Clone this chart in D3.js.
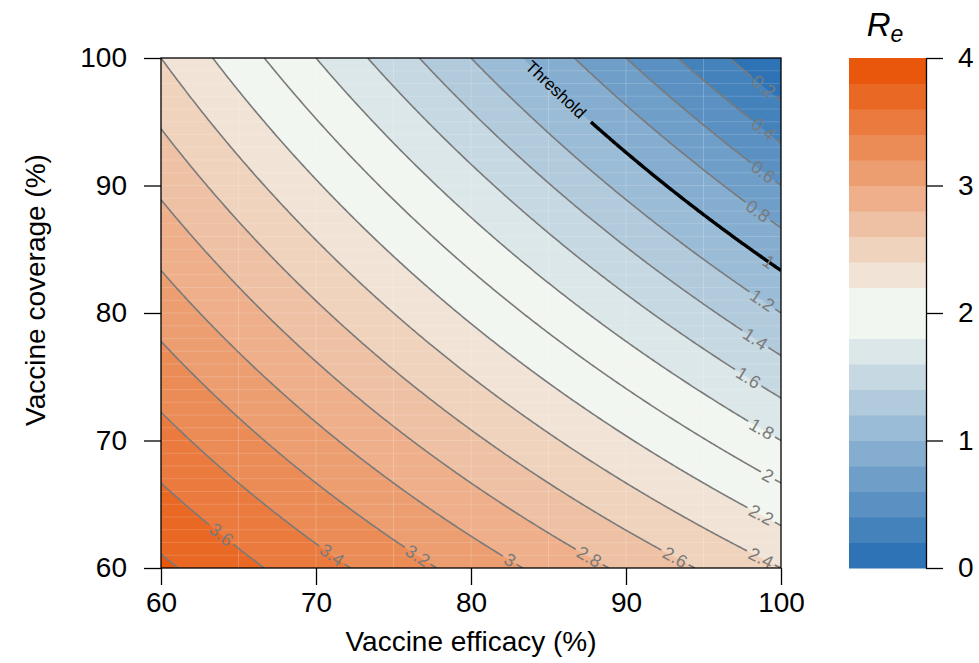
<!DOCTYPE html>
<html lang="en">
<head>
<meta charset="UTF-8">
<title>Re by vaccine efficacy and coverage</title>
<script src="https://cdn.jsdelivr.net/npm/d3@7"></script>
<style>
    body { margin: 0; background: #fff; }
    svg text { font-family: "Liberation Sans", Arial, Helvetica, sans-serif; }
</style>
</head>
<body>
<svg id="chart" width="979" height="663"></svg>
<script>
// Grid the surface was read on (%)
const efficacy = [60, 65, 70, 75, 80, 85, 90, 95, 100];
const coverage = [60, 65, 70, 75, 80, 85, 90, 95, 100];

// Re values: one row per coverage, one column per efficacy
const reValues = [
    [3.84, 3.66, 3.48, 3.30, 3.12, 2.94, 2.76, 2.58, 2.40],
    [3.66, 3.465, 3.27, 3.075, 2.88, 2.685, 2.49, 2.295, 2.10],
    [3.48, 3.27, 3.06, 2.85, 2.64, 2.43, 2.22, 2.01, 1.80],
    [3.30, 3.075, 2.85, 2.625, 2.40, 2.175, 1.95, 1.725, 1.50],
    [3.12, 2.88, 2.64, 2.40, 2.16, 1.92, 1.68, 1.44, 1.20],
    [2.94, 2.685, 2.43, 2.175, 1.92, 1.665, 1.41, 1.155, 0.90],
    [2.76, 2.49, 2.22, 1.95, 1.68, 1.41, 1.14, 0.87, 0.60],
    [2.58, 2.295, 2.01, 1.725, 1.44, 1.155, 0.87, 0.585, 0.30],
    [2.40, 2.10, 1.80, 1.50, 1.20, 0.90, 0.60, 0.30, 0.00]
];

// contour levels and the colour of each 0.2 band (0-0.2 first)
const levels = [0.2, 0.4, 0.6, 0.8, 1, 1.2, 1.4, 1.6, 1.8, 2, 2.2, 2.4, 2.6, 2.8, 3, 3.2, 3.4, 3.6, 3.8];
const levelLabels = ["0.2", "0.4", "0.6", "0.8", "1", "1.2", "1.4", "1.6", "1.8", "2", "2.2", "2.4", "2.6", "2.8", "3", "3.2", "3.4", "3.6", "3.8"];
const bandColors = [
    "#2E73B5", "#4482BC", "#5A90C2", "#6F9FC9", "#85ADCF", "#9BBCD6", "#B1CADC", "#C6D9E3", "#DCE7E9", "#F2F6F0",
    "#F2F6F0", "#F1E4D7", "#F0D3BD", "#EFC1A4", "#EEAF8A", "#EC9E71", "#EB8C57", "#EA7A3E", "#E96924", "#E8570B"
];
const threshold = 1;
const thresholdLabel = "Threshold";

const xTicks = [60, 70, 80, 90, 100];
const yTicks = [60, 70, 80, 90, 100];
const legendTicks = [0, 1, 2, 3, 4];

// layout
const plot = { left: 161, right: 781, top: 58, bottom: 568 };
const bar = { left: 849, right: 926 };
const fontFamily = '"Liberation Sans", Arial, Helvetica, sans-serif';
const lineGrey = "#7a7a7a";
// how far (px, beyond half the label) each contour label sits from the line's lower end
const labelGapFromEnd = { 0.8: 16, 1.4: 18, 1.6: 26, 3.6: 42 };

const svg = d3.select("#chart");

const x = d3.scaleLinear().domain([60, 100]).range([plot.left, plot.right]);
const y = d3.scaleLinear().domain([60, 100]).range([plot.bottom, plot.top]);

// bilinear read of the grid
function reAt(e, c) {
    const i = Math.max(0, Math.min(efficacy.length - 2, d3.bisectRight(efficacy, e) - 1));
    const j = Math.max(0, Math.min(coverage.length - 2, d3.bisectRight(coverage, c) - 1));
    const te = (e - efficacy[i]) / (efficacy[i + 1] - efficacy[i]);
    const tc = (c - coverage[j]) / (coverage[j + 1] - coverage[j]);
    return (1 - te) * (1 - tc) * reValues[j][i] + te * (1 - tc) * reValues[j][i + 1]
         + (1 - te) * tc * reValues[j + 1][i] + te * tc * reValues[j + 1][i + 1];
}

svg.append("clipPath").attr("id", "plot-clip")
   .append("rect")
   .attr("x", plot.left).attr("y", plot.top)
   .attr("width", plot.right - plot.left).attr("height", plot.bottom - plot.top);

// filled bands
const step = 0.25, n = 161;
const grid = new Array(n * n);
for (let j = 0; j < n; j++) {
    for (let i = 0; i < n; i++) grid[j * n + i] = reAt(60 + i * step, 60 + j * step);
}
const bands = d3.contours().size([n, n]).thresholds(levels)(grid);
const proj = d3.geoTransform({
    point(u, v) { this.stream.point(x(60 + (u - 0.5) * step), y(60 + (v - 0.5) * step)); }
});
const geo = d3.geoPath(proj);

const fills = svg.append("g").attr("clip-path", "url(#plot-clip)");
fills.append("rect")
     .attr("x", plot.left).attr("y", plot.top)
     .attr("width", plot.right - plot.left).attr("height", plot.bottom - plot.top)
     .attr("fill", bandColors[0]);
fills.selectAll("path.band")
     .data(bands)
     .join("path")
     .attr("class", "band")
     .attr("d", geo)
     .attr("fill", d => bandColors[Math.round(d.value / 0.2)]);

// faint raster seams seen in the original image
fills.selectAll("line.vseam")
     .data(d3.range(65, 100, 5))
     .join("line")
     .attr("x1", d => x(d)).attr("x2", d => x(d))
     .attr("y1", plot.top).attr("y2", plot.bottom)
     .attr("stroke", "#fff").attr("stroke-opacity", 0.2).attr("stroke-width", 1);
fills.selectAll("line.hseam")
     .data(d3.range(61, 100, 1))
     .join("line")
     .attr("y1", d => y(d)).attr("y2", d => y(d))
     .attr("x1", plot.left).attr("x2", plot.right)
     .attr("stroke", "#fff").attr("stroke-opacity", 0.16).attr("stroke-width", 1);

// contour line of one level, as pixel points ordered by efficacy
function solveC(e, L) {
    for (let j = 0; j < coverage.length - 1; j++) {
        const a = reAt(e, coverage[j]), b = reAt(e, coverage[j + 1]);
        if ((a - L) * (b - L) <= 0 && a !== b) return coverage[j] + (L - a) / (b - a) * (coverage[j + 1] - coverage[j]);
    }
    return null;
}
function solveE(c, L) {
    for (let i = 0; i < efficacy.length - 1; i++) {
        const a = reAt(efficacy[i], c), b = reAt(efficacy[i + 1], c);
        if ((a - L) * (b - L) <= 0 && a !== b) return efficacy[i] + (L - a) / (b - a) * (efficacy[i + 1] - efficacy[i]);
    }
    return null;
}
function isoLine(L) {
    const pts = [];
    for (let k = 0; k <= 400; k++) {
        const e = 60 + k * 0.1;
        const c = solveC(e, L);
        if (c !== null) pts.push([e, c]);
    }
    [60, 100].forEach(c => {
        const e = solveE(c, L);
        if (e !== null) pts.push([e, c]);
    });
    pts.sort((a, b) => a[0] - b[0]);
    return pts.map(p => [x(p[0]), y(p[1])]);
}

// walk along a polyline
function measure(pts) {
    const cum = [0];
    for (let k = 1; k < pts.length; k++) {
        cum.push(cum[k - 1] + Math.hypot(pts[k][0] - pts[k - 1][0], pts[k][1] - pts[k - 1][1]));
    }
    return cum;
}
function pointAt(pts, cum, s) {
    s = Math.max(0, Math.min(cum[cum.length - 1], s));
    let k = d3.bisectRight(cum, s) - 1;
    k = Math.min(k, pts.length - 2);
    const t = (s - cum[k]) / ((cum[k + 1] - cum[k]) || 1);
    return [pts[k][0] + t * (pts[k + 1][0] - pts[k][0]), pts[k][1] + t * (pts[k + 1][1] - pts[k][1])];
}
function slice(pts, cum, s0, s1) {
    const out = [pointAt(pts, cum, s0)];
    pts.forEach((p, k) => { if (cum[k] > s0 && cum[k] < s1) out.push(p); });
    out.push(pointAt(pts, cum, s1));
    return out;
}

const lineGen = d3.line();
const linesG = svg.append("g").attr("clip-path", "url(#plot-clip)");
const labelsG = svg.append("g");

// draw a labelled contour; the label sits `offset` px from one end
function drawContour(pts, text, opts) {
    const ordered = opts.fromStart ? pts : pts.slice().reverse();
    const cum = measure(ordered);
    const total = cum[cum.length - 1];

    const label = labelsG.append("text")
        .attr("font-size", opts.fontSize)
        .attr("fill", opts.textColor)
        .attr("text-anchor", "middle")
        .attr("dominant-baseline", "central")
        .text(text);
    const half = label.node().getComputedTextLength() / 2;

    if (total < 2 * (half + 11)) {
        label.remove();
        if (opts.drawLine) linesG.append("path").attr("d", lineGen(ordered))
            .attr("fill", "none").attr("stroke", opts.stroke).attr("stroke-width", opts.width);
        return;
    }

    const d = half + opts.offset;
    const p = pointAt(ordered, cum, d);
    const a = pointAt(ordered, cum, d - 6), b = pointAt(ordered, cum, d + 6);
    let ang = Math.atan2(b[1] - a[1], b[0] - a[0]) * 180 / Math.PI;
    if (ang > 90) ang -= 180;
    if (ang < -90) ang += 180;
    label.attr("transform", `translate(${p[0]},${p[1]}) rotate(${ang})`);

    if (!opts.drawLine) return;
    const g0 = Math.max(0, d - half - opts.gap), g1 = d + half + opts.gap;
    const parts = [];
    if (g0 > 0.5) parts.push(slice(ordered, cum, 0, g0));
    if (g1 < total) parts.push(slice(ordered, cum, g1, total));
    parts.forEach(seg => {
        linesG.append("path").attr("d", lineGen(seg))
            .attr("fill", "none").attr("stroke", opts.stroke)
            .attr("stroke-width", opts.width).attr("stroke-linejoin", "round");
    });
}

levels.forEach((L, k) => {
    drawContour(isoLine(L), levelLabels[k], {
        fromStart: false, offset: labelGapFromEnd[L] || 10, gap: 3, fontSize: 18,
        textColor: lineGrey, stroke: lineGrey, width: 1.6,
        drawLine: L !== threshold
    });
});

// threshold line, labelled at its top end
drawContour(isoLine(threshold), thresholdLabel, {
    fromStart: true, offset: 8, gap: 10, fontSize: 17,
    textColor: "#000", stroke: "#000", width: 3.4, drawLine: true
});

// plot frame
svg.append("rect")
   .attr("x", plot.left).attr("y", plot.top)
   .attr("width", plot.right - plot.left).attr("height", plot.bottom - plot.top)
   .attr("fill", "none").attr("stroke", "#000").attr("stroke-width", 1.3);

function styleAxis(g) {
    g.attr("font-size", 28).attr("font-family", fontFamily);
    g.selectAll("line, path").attr("stroke", "#000").attr("stroke-width", 1.3);
    g.selectAll("text").attr("fill", "#000");
}

svg.append("g")
   .attr("transform", `translate(0,${plot.bottom})`)
   .call(d3.axisBottom(x).tickValues(xTicks).tickSize(17).tickSizeOuter(0).tickPadding(7))
   .call(styleAxis)
   .call(g => g.select(".domain").remove());

svg.append("g")
   .attr("transform", `translate(${plot.left},0)`)
   .call(d3.axisLeft(y).tickValues(yTicks).tickSize(17).tickSizeOuter(0).tickPadding(17))
   .call(styleAxis)
   .call(g => g.select(".domain").remove());

svg.append("text")
   .attr("x", (plot.left + plot.right) / 2).attr("y", 651)
   .attr("text-anchor", "middle").attr("font-size", 28)
   .text("Vaccine efficacy (%)");

svg.append("text")
   .attr("transform", `translate(45,290) rotate(-90)`)
   .attr("text-anchor", "middle").attr("font-size", 28)
   .text("Vaccine coverage (%)");

// colour key
const cb = d3.scaleLinear().domain([0, 4]).range([plot.bottom, plot.top]);
svg.append("g").selectAll("rect")
   .data(bandColors)
   .join("rect")
   .attr("x", bar.left)
   .attr("width", bar.right - bar.left)
   .attr("y", (d, i) => cb((i + 1) * 0.2))
   .attr("height", (d, i) => cb(i * 0.2) - cb((i + 1) * 0.2) + 0.5)
   .attr("fill", d => d);

svg.append("g")
   .attr("transform", `translate(${bar.right},0)`)
   .call(d3.axisRight(cb).tickValues(legendTicks).tickFormat(d3.format("d"))
           .tickSize(17).tickSizeOuter(0).tickPadding(15))
   .call(styleAxis);

const title = svg.append("text")
   .attr("x", 885).attr("y", 36)
   .attr("text-anchor", "middle")
   .attr("font-style", "italic");
title.append("tspan").attr("font-size", 33).text("R");
title.append("tspan").attr("font-size", 23).attr("dy", 6).text("e");
</script>
</body>
</html>
